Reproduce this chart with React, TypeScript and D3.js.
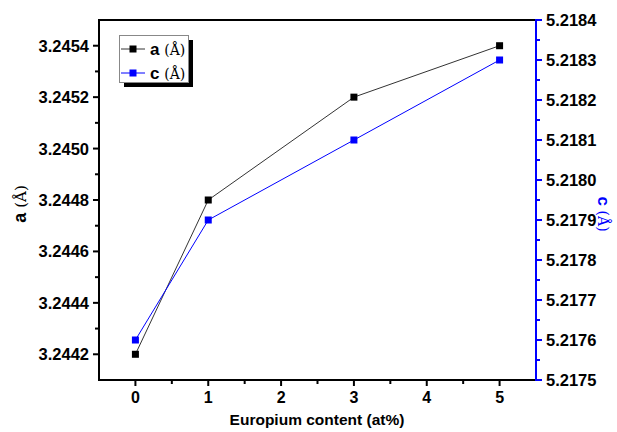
import React from "react";
import * as d3 from "d3";

const xValues = [0, 1, 3, 5];
const aValues = [3.2442, 3.2448, 3.2452, 3.2454];
const cValues = [5.2176, 5.2179, 5.2181, 5.2183];
const xTicks = [0, 1, 2, 3, 4, 5];
const leftTicks = [3.2442, 3.2444, 3.2446, 3.2448, 3.245, 3.2452, 3.2454];
const rightTicks = [5.2175, 5.2176, 5.2177, 5.2178, 5.2179, 5.218, 5.2181, 5.2182, 5.2183, 5.2184];

const W = 617, H = 432;
const L = 99, R = 536, T = 20, B = 380;
const FONT = "'Liberation Sans', Arial, sans-serif";
const SERIF = "'DejaVu Serif', 'Liberation Serif', serif";

export default function App() {
  const x = d3.scaleLinear().domain([-0.5, 5.5]).range([L, R]);
  const yA = d3.scaleLinear().domain([3.2441, 3.2455]).range([B, T]);
  const yC = d3.scaleLinear().domain([5.2175, 5.2184]).range([B, T]);
  const lineA = d3.line<number>().x((_, i) => x(xValues[i])).y((d) => yA(d));
  const lineC = d3.line<number>().x((_, i) => x(xValues[i])).y((d) => yC(d));
  const xMinor = d3.range(-0.5, 5.51, 0.5).filter((v) => !xTicks.includes(v) && v > -0.5 && v < 5.5);
  const leftMinor = d3.range(0, 7).map((i) => 3.2441 + i * 0.0002).concat([3.2455]).filter(v => v > 3.24411 && v < 3.24549);
  const rightMinor = d3.range(0, 9).map((i) => 5.21755 + i * 0.0001);
  const ms = 7;

  return (
    <svg width={W} height={H} style={{ position: "absolute", left: 0, top: 0, background: "#fff" }}>
      <rect x={0} y={0} width={W} height={H} fill="#fff" />
      {/* lines */}
      <path d={lineA(aValues) || ""} fill="none" stroke="#333" strokeWidth={1} />
      <path d={lineC(cValues) || ""} fill="none" stroke="#0000ff" strokeWidth={1} />
      {aValues.map((v, i) => (
        <rect key={"a" + i} x={x(xValues[i]) - ms / 2} y={yA(v) - ms / 2} width={ms} height={ms} fill="#000" />
      ))}
      {cValues.map((v, i) => (
        <rect key={"c" + i} x={x(xValues[i]) - ms / 2} y={yC(v) - ms / 2} width={ms} height={ms} fill="#0000ff" />
      ))}

      {/* frame */}
      <line x1={L} x2={R} y1={T} y2={T} stroke="#000" strokeWidth={2} />
      <line x1={L} x2={R} y1={B} y2={B} stroke="#000" strokeWidth={2} />
      <line x1={L} x2={L} y1={T - 1} y2={B + 1} stroke="#000" strokeWidth={2} />
      <line x1={R} x2={R} y1={T - 1} y2={B + 1} stroke="#0000ff" strokeWidth={2} />

      {/* x ticks */}
      {xTicks.map((t) => (
        <g key={"xt" + t}>
          <line x1={x(t)} x2={x(t)} y1={B} y2={B + 6} stroke="#000" strokeWidth={2} />
          <text x={x(t)} y={B + 23} textAnchor="middle" fontFamily={FONT} fontWeight="bold" fontSize={16}>{t}</text>
        </g>
      ))}
      {xMinor.map((t) => (
        <line key={"xm" + t} x1={x(t)} x2={x(t)} y1={B} y2={B + 4} stroke="#000" strokeWidth={2} />
      ))}
      <text x={(L + R) / 2 - 0.5} y={B + 45} textAnchor="middle" fontFamily={FONT} fontWeight="bold" fontSize={15.5}>Europium content (at%)</text>

      {/* left ticks */}
      {leftTicks.map((t) => (
        <g key={"lt" + t}>
          <line x1={L - 6} x2={L} y1={yA(t)} y2={yA(t)} stroke="#000" strokeWidth={2} />
          <text x={L - 10} y={yA(t) + 6} textAnchor="end" fontFamily={FONT} fontWeight="bold" fontSize={16.5}>{t.toFixed(4)}</text>
        </g>
      ))}
      {leftMinor.map((t) => (
        <line key={"lm" + t} x1={L - 4} x2={L} y1={yA(t)} y2={yA(t)} stroke="#000" strokeWidth={2} />
      ))}
      <text transform={`translate(26, 204) rotate(-90)`} textAnchor="middle" fontFamily={FONT} fontWeight="bold" fontSize={18}>
        a <tspan fontFamily={SERIF} fontWeight="normal" fontSize={15}>(Å)</tspan>
      </text>

      {/* right ticks */}
      {rightTicks.map((t) => (
        <g key={"rt" + t}>
          <line x1={R} x2={R + 6} y1={yC(t)} y2={yC(t)} stroke="#0000ff" strokeWidth={2} />
          <text x={R + 10} y={yC(t) + 6} textAnchor="start" fontFamily={FONT} fontWeight="bold" fontSize={16.5}>{t.toFixed(4)}</text>
        </g>
      ))}
      {rightMinor.map((t) => (
        <line key={"rm" + t} x1={R} x2={R + 4} y1={yC(t)} y2={yC(t)} stroke="#0000ff" strokeWidth={2} />
      ))}
      <text transform={`translate(598, 214) rotate(90)`} textAnchor="middle" fill="#0000ff" fontFamily={FONT} fontWeight="bold" fontSize={17}>
        c <tspan fontFamily={SERIF} fontWeight="normal" fontSize={14}>(Å)</tspan>
      </text>

      {/* legend */}
      <rect x={124} y={40} width={69} height={47} fill="#000" />
      <rect x={119.5} y={35.5} width={69} height={47} fill="#fff" stroke="#888" strokeWidth={1} />
      <line x1={121} x2={145} y1={49} y2={49} stroke="#333" strokeWidth={1} />
      <rect x={133 - ms / 2} y={49 - ms / 2} width={ms} height={ms} fill="#000" />
      <text x={150} y={55} fontFamily={FONT} fontWeight="bold" fontSize={17}>
        a <tspan fontFamily={SERIF} fontWeight="normal" fontSize={14}>(Å)</tspan>
      </text>
      <line x1={121} x2={145} y1={73} y2={73} stroke="#0000ff" strokeWidth={1} />
      <rect x={133 - ms / 2} y={73 - ms / 2} width={ms} height={ms} fill="#0000ff" />
      <text x={150} y={79} fontFamily={FONT} fontWeight="bold" fontSize={17}>
        c <tspan fontFamily={SERIF} fontWeight="normal" fontSize={14}>(Å)</tspan>
      </text>
    </svg>
  );
}
